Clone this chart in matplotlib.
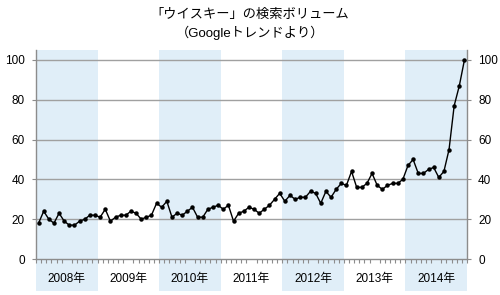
import numpy as np
import matplotlib
matplotlib.use("Agg")
import matplotlib.pyplot as plt

plt.rcParams['font.family'] = ['Liberation Sans', 'Noto Sans CJK JP', 'DejaVu Sans']

years = ["2008年", "2009年", "2010年", "2011年", "2012年", "2013年", "2014年"]
v2008 = [18, 24, 20, 18, 23, 19, 17, 17, 19, 20, 22, 22]
v2009 = [21, 25, 19, 21, 22, 22, 24, 23, 20, 21, 22, 28]
v2010 = [26, 29, 21, 23, 22, 24, 26, 21, 21, 25, 26, 27]
v2011 = [25, 27, 19, 23, 24, 26, 25, 23, 25, 27, 30, 33]
v2012 = [29, 32, 30, 31, 31, 34, 33, 28, 34, 31, 35, 38]
v2013 = [37, 44, 36, 36, 38, 43, 37, 35, 37, 38, 38, 40]
v2014 = [47, 50, 43, 43, 45, 46, 41, 44, 55, 77, 87, 100]
values = v2008 + v2009 + v2010 + v2011 + v2012 + v2013 + v2014
yticks = [0, 20, 40, 60, 80, 100]

title1 = "「ウイスキー」の検索ボリューム"
title2 = "（Googleトレンドより）"

fig = plt.figure(figsize=(5.0, 2.95), dpi=100)
ax = fig.add_axes([0.072, 0.122, 0.862, 0.7085])

n = len(values)
x = np.arange(n) + 0.5
ax.set_xlim(0, n)
ax.set_ylim(0, 105)

band = '#e0eef8'
for i in range(0, len(years), 2):
    ax.axvspan(i * 12, (i + 1) * 12, ymin=-0.153, ymax=1, color=band, lw=0,
               clip_on=False, zorder=0)

for t in yticks[1:]:
    ax.axhline(t, color='#a0a0a0', lw=1.0, zorder=1)

ax.plot(x, values, color='black', lw=1.0, marker='o', markersize=2.2, zorder=3)

for s in ['top']:
    ax.spines[s].set_visible(False)
for s in ['left', 'right', 'bottom']:
    ax.spines[s].set_color('#8c8c8c')
    ax.spines[s].set_linewidth(1.0)

ax.set_yticks(yticks)
ax.tick_params(axis='y', which='both', left=True, right=True, labelleft=True,
               labelright=True, length=3, color='#8c8c8c', labelsize=8.5, pad=5)

ax.set_xticks(np.arange(0, n + 1), minor=True)
ax.set_xticks(np.arange(len(years)) * 12 + 6)
ax.set_xticklabels(years)
ax.tick_params(axis='x', which='major', length=0, labelsize=8.5, pad=10)
ax.tick_params(axis='x', which='minor', length=3, color='#8c8c8c', width=0.8)

fig.text(0.5, 0.948, title1, ha='center', va='center', fontsize=9.5)
fig.text(0.5, 0.888, title2, ha='center', va='center', fontsize=9.5)

fig.savefig('out.png', dpi=100)
